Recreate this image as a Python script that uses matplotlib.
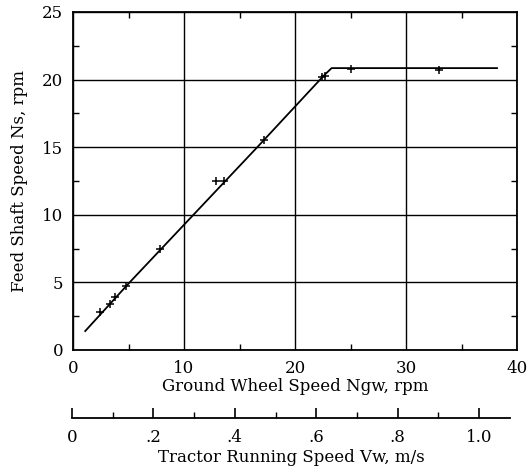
import numpy as np
import matplotlib.pyplot as plt
from matplotlib.ticker import MultipleLocator, FixedLocator

# measured points (ground wheel speed rpm, feed shaft speed rpm)
ngw_pts = [2.4, 3.3, 3.8, 4.8, 7.8, 12.9, 13.6, 17.2, 22.4, 22.7, 25.0, 33.0]
ns_pts = [2.8, 3.4, 3.9, 4.7, 7.5, 12.5, 12.5, 15.5, 20.2, 20.3, 20.8, 20.7]

# fitted line
ngw_fit = [1.1, 5.1, 16.6, 22.6, 23.3, 38.2]
ns_fit = [1.4, 5.0, 15.0, 20.3, 20.85, 20.85]

vw_ticks = [0, 0.2, 0.4, 0.6, 0.8, 1.0]
vw_labels = ["0", ".2", ".4", ".6", ".8", "1.0"]

plt.rcParams['font.family'] = ['DejaVu Serif']
fs = 12

fig = plt.figure(figsize=(5.32, 4.76), dpi=100)
W, H = 532, 476

# main axes
ax = fig.add_axes([73 / W, (H - 350) / H, 444 / W, 338 / H])
ax.plot(ngw_fit, ns_fit, color='black', lw=1.3)
ax.plot(ngw_pts, ns_pts, '+', color='black', ms=6, mew=1.1)
ax.set_xlim(0, 40)
ax.set_ylim(0, 25)
ax.xaxis.set_major_locator(MultipleLocator(10))
ax.xaxis.set_minor_locator(MultipleLocator(5))
ax.yaxis.set_major_locator(MultipleLocator(5))
ax.yaxis.set_minor_locator(MultipleLocator(2.5))
ax.grid(True, which='major', color='black', lw=1.0)
ax.tick_params(which='both', direction='in', top=True, right=True,
               labelsize=fs, color='black')
ax.tick_params(which='major', length=0, pad=7)
ax.tick_params(which='minor', length=4, width=1.0)
for s in ax.spines.values():
    s.set_linewidth(1.3)
ax.set_xlabel("Ground Wheel Speed Ngw, rpm", fontsize=fs, labelpad=1)
ax.set_ylabel("Feed Shaft Speed Ns, rpm", fontsize=fs, labelpad=10)

# secondary scale: tractor running speed
ax2 = fig.add_axes([72 / W, (H - 418) / H, 438 / W, 0.001])
ax2.set_xlim(0, 438 / 407)
ax2.set_yticks([])
for k in ['top', 'left', 'right']:
    ax2.spines[k].set_visible(False)
ax2.spines['bottom'].set_linewidth(1.3)
ax2.xaxis.set_major_locator(FixedLocator(vw_ticks))
ax2.set_xticklabels(vw_labels)
ax2.xaxis.set_minor_locator(FixedLocator([0.1, 0.3, 0.5, 0.7, 0.9]))
ax2.tick_params(which='both', direction='in', labelsize=fs, pad=8)
ax2.tick_params(which='major', length=7, width=1.2)
ax2.tick_params(which='minor', length=4, width=1.0)
ax2.set_xlabel("Tractor Running Speed Vw, m/s", fontsize=fs, labelpad=2)

fig.savefig("out.png", dpi=100)
